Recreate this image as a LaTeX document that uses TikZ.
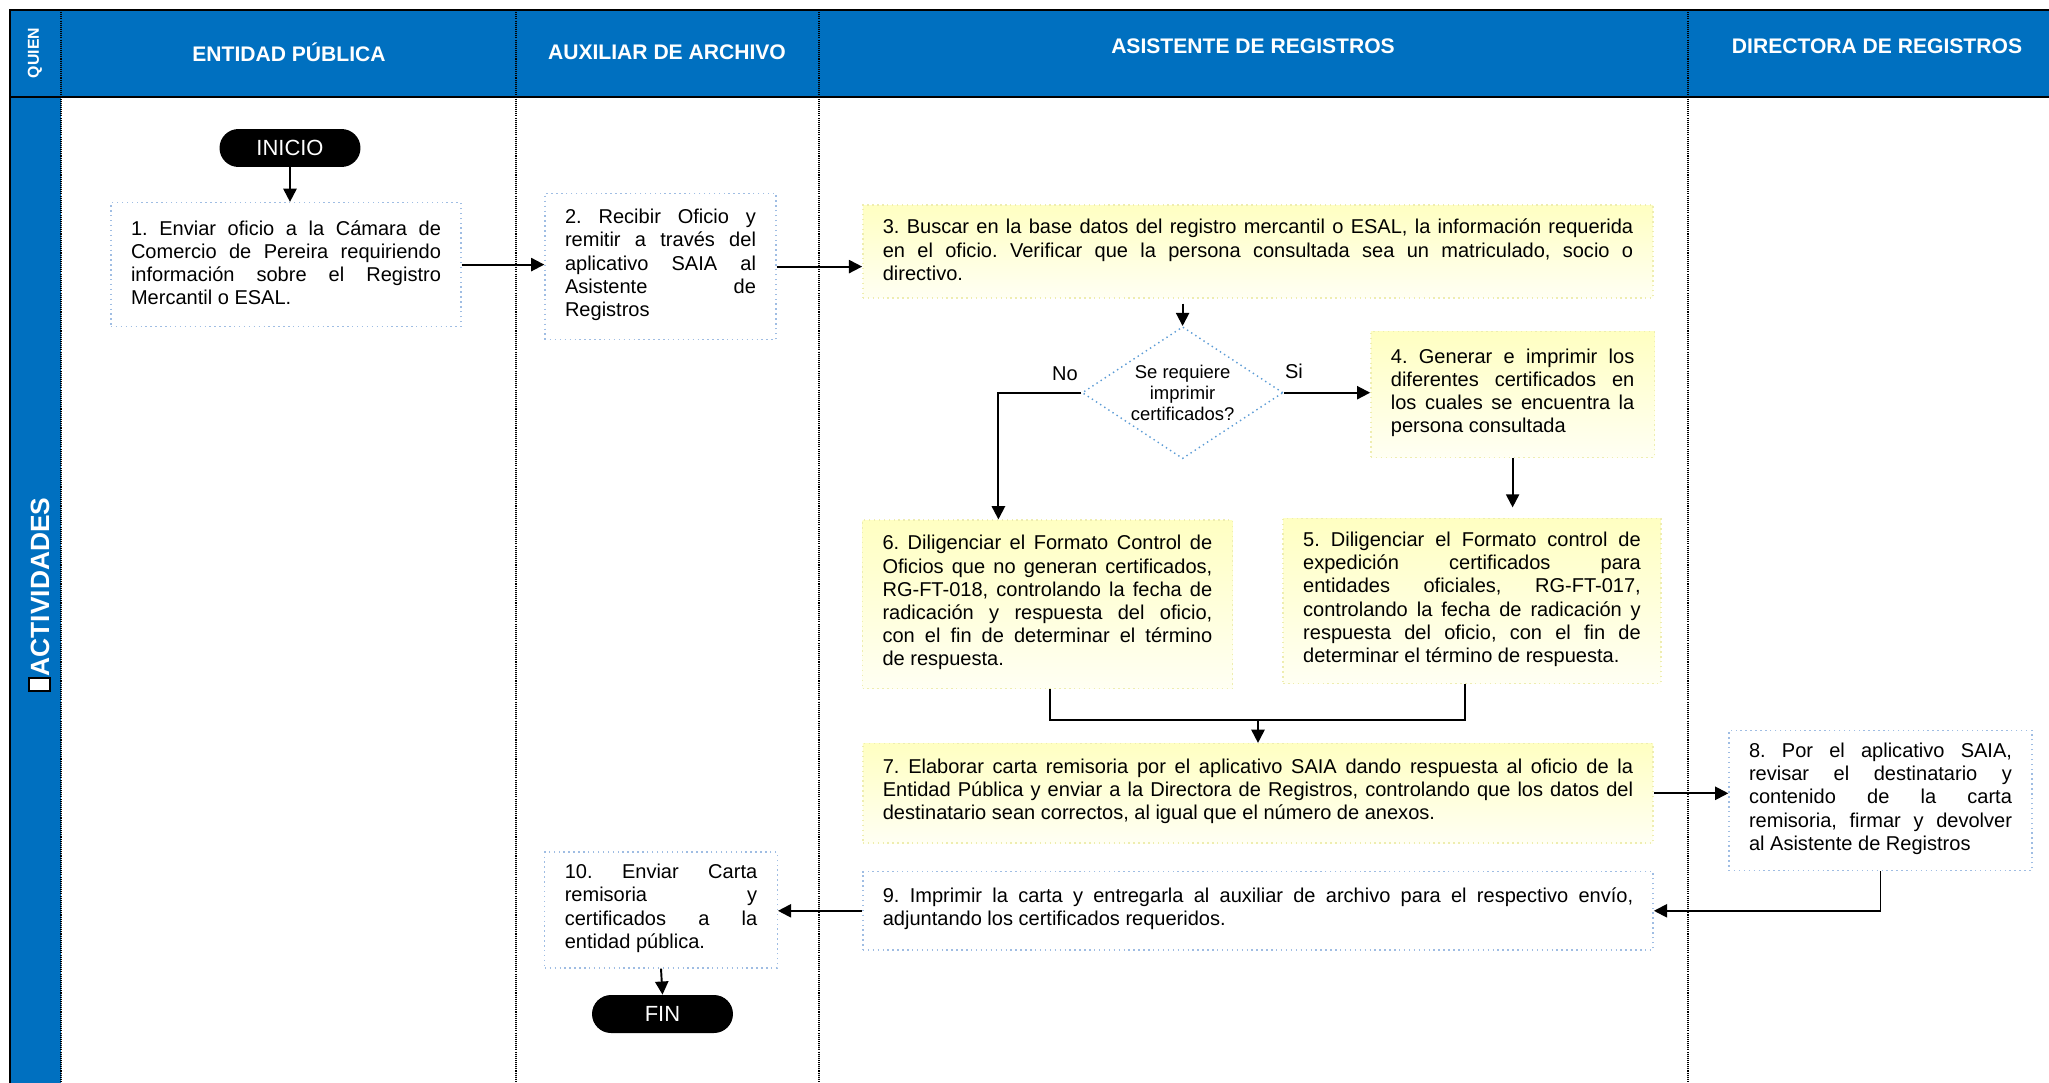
\documentclass[tikz,border=0pt]{standalone}
\usepackage{fontspec}
\setmainfont{Liberation Sans}
\usetikzlibrary{arrows.meta,shapes.geometric,calc}
\definecolor{hdrblue}{HTML}{0070C0}
\definecolor{boxblue}{HTML}{9FBDE3}
\definecolor{dmdblue}{HTML}{5B9BD5}
\definecolor{boxyel}{HTML}{EEEDB0}
\definecolor{yeltop}{HTML}{FFFFC2}
\definecolor{yelbot}{HTML}{FFFFF3}
\frenchspacing
\newcommand\myboxend{\par\vspace{2pt}}
\begin{document}
\begin{tikzpicture}[x=0.02cm,y=-0.02cm,
  every node/.style={font=\fontsize{11.4}{13.2}\selectfont},
  hdr/.style={text=white,font=\fontsize{12}{14}\selectfont\bfseries},
  lanediv/.style={line width=0.6pt,dash pattern=on 0.6pt off 0.6pt},
  frame/.style={line width=1.7pt},
  boxtext/.style={align=justify,inner ysep=0pt,inner xsep=0.4cm,execute at begin node=\frenchspacing,execute at end node=\myboxend},
  wbox/.style={boxtext,draw=boxblue,dotted,line width=0.8pt,fill=white},
  ybox/.style={boxtext,draw=boxyel,dotted,line width=0.8pt,top color=yeltop,bottom color=yelbot},
  pill/.style={fill=black,text=white,rounded corners=0.38cm,minimum width=2.82cm,minimum height=0.76cm,inner sep=0pt,font=\fontsize{12.5}{14}\selectfont},
  decision/.style={diamond,draw=dmdblue,dotted,line width=0.8pt,fill=white,aspect=1.52,minimum width=4.02cm,minimum height=2.64cm,inner sep=0pt,align=center,font=\fontsize{10.5}{12}\selectfont},
  arr/.style={-{Triangle[length=7.5pt,width=7.5pt]},line width=1.1pt},
  ln/.style={line width=1.1pt}
]
\useasboundingbox (0,0) rectangle (2049,1082);
\clip (0,0) rectangle (2049,1082);
% swimlane frame
\fill[hdrblue] (10,10) rectangle (2100,97);
\fill[hdrblue] (10,97) rectangle (61,1100);
\foreach \x in {61,516,819,1688} \draw[lanediv] (\x,10) -- (\x,1100);
\draw[frame] (10,1100) -- (10,10) -- (2100,10);
\draw[frame] (10,97) -- (2100,97);
% headers
\node[rotate=90,text=white,font=\fontsize{9}{10}\selectfont\bfseries] (hq) at (35,53) {QUIEN};
\node[hdr] (h1) at (289,52) {ENTIDAD PÚBLICA};
\node[hdr] (h2) at (667,52) {AUXILIAR DE ARCHIVO};
\node[hdr] (h3) at (1253,46) {ASISTENTE DE REGISTROS};
\node[hdr] (h4) at (1877,46) {DIRECTORA DE REGISTROS};
\node[rotate=90,text=white,font=\fontsize{15}{18}\selectfont\bfseries] (act) at (40,587) {ACTIVIDADES};
\draw[fill=white,line width=0.9pt] (29,678) rectangle (50,691);
% nodes
\node[pill] (ini) at (290,148) {INICIO};
\node[wbox,text width=6.2cm,minimum height=2.48cm] (b1) at (286,264.6)
 {1. Enviar oficio a la Cámara de\linebreak Comercio de Pereira requiriendo\linebreak información sobre el Registro\linebreak Mercantil o ESAL.};
\node[wbox,text width=3.82cm,minimum height=2.92cm] (b2) at (660.5,266.6)
 {2. Recibir Oficio y\linebreak remitir a través del\linebreak aplicativo SAIA al\linebreak Asistente de\linebreak Registros};
\node[ybox,text width=15.01cm,minimum height=1.86cm] (b3) at (1258,251.5)
 {3. Buscar en la base datos del registro mercantil o ESAL, la información requerida\linebreak en el oficio. Verificar que la persona consultada sea un matriculado, socio o\linebreak directivo.};
\node[decision] (d) at (1182.6,392.7) {Se requiere\\imprimir\\certificados?};
\node[ybox,text width=4.87cm,minimum height=2.51cm] (b4) at (1512.6,394.5)
 {4. Generar e imprimir los\linebreak diferentes certificados en\linebreak los cuales se encuentra la\linebreak persona consultada};
\node[ybox,text width=6.754cm,minimum height=3.294cm] (b5) at (1472,601)
 {5. Diligenciar el Formato control de\linebreak expedición certificados para\linebreak entidades oficiales, RG-FT-017,\linebreak controlando la fecha de radicación y\linebreak respuesta del oficio, con el fin de\linebreak determinar el término de respuesta.};
\node[ybox,text width=6.596cm,minimum height=3.372cm] (b6) at (1047.4,604.4)
 {6. Diligenciar el Formato Control de\linebreak Oficios que no generan certificados,\linebreak RG-FT-018, controlando la fecha de\linebreak radicación y respuesta del oficio,\linebreak con el fin de determinar el término\linebreak de respuesta.};
\node[ybox,text width=15.01cm,minimum height=1.988cm] (b7) at (1258,793.3)
 {7. Elaborar carta remisoria por el aplicativo SAIA dando respuesta al oficio de la\linebreak Entidad Pública y enviar a la Directora de Registros, controlando que los datos del\linebreak destinatario sean correctos, al igual que el número de anexos.};
\node[wbox,text width=5.26cm,minimum height=2.8cm] (b8) at (1880.5,800.4)
 {8. Por el aplicativo SAIA,\linebreak revisar el destinatario y\linebreak contenido de la carta\linebreak remisoria, firmar y devolver\linebreak al Asistente de Registros};
\node[wbox,text width=15.01cm,minimum height=1.568cm] (b9) at (1258,910.8)
 {9. Imprimir la carta y entregarla al auxiliar de archivo para el respectivo envío,\linebreak adjuntando los certificados requeridos.};
\node[wbox,text width=3.85cm,minimum height=2.32cm] (b10) at (661,910)
 {10. Enviar Carta\linebreak remisoria y\linebreak certificados a la\linebreak entidad pública.};
\node[pill] (fin) at (662.5,1014) {FIN};
\node (lno) at (1065,374) {No};
\node (lsi) at (1294,371) {Si};
\coordinate (m) at (1258,720);
% connectors
\draw[arr] (ini.south) -- (ini.south |- b1.north);
\draw[arr] (b1.east) -- (b1.east -| b2.west);
\draw[arr] (b2.east) -- (b2.east -| b3.west);
\draw[arr] ($(d.north |- b3.south)+(0,5)$) -- (d.north);
\draw[arr] (d.east) -- (d.east -| b4.west);
\draw[arr,shorten >=6pt] (b4.south) -- (b4.south |- b5.north);
\draw[arr] (d.west) -| ($(b6.north)+(-49,0)$);
\draw[ln] ($(b6.south)+(3,0)$) -- ($(b6.south |- m)+(3,0)$) -- ($(b5.south |- m)+(-7,0)$) -- ($(b5.south)+(-7,0)$);
\draw[arr] (m) -- (b7.north);
\draw[arr] (b7.east) -- (b7.east -| b8.west);
\draw[arr] (b8.south) |- (b9.east);
\draw[arr] (b9.west) -- (b9.west -| b10.east);
\draw[arr] (b10.south) -- (fin.north);
\end{tikzpicture}
\end{document}
